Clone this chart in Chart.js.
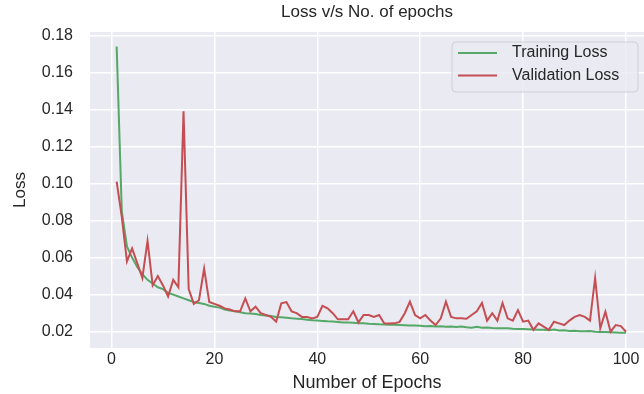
<!DOCTYPE html>
<html>
<head>
<meta charset="utf-8">
<script src="https://cdn.jsdelivr.net/npm/chart.js@4.4.1/dist/chart.umd.min.js"></script>
<style>
  body { margin: 0; background: #fff; }
  #wrap { width: 644px; height: 394px; }
</style>
</head>
<body>
<div id="wrap"><canvas id="lossChart" width="644" height="394"></canvas></div>
<script>
// epoch numbers on the x axis
var epochs = [];
for (var i = 1; i <= 100; i++) epochs.push(i);

var trainLoss = [
  0.174, 0.085, 0.066, 0.060, 0.055, 0.051, 0.048, 0.046, 0.044, 0.043,
  0.041, 0.040, 0.039, 0.038, 0.037, 0.036, 0.0355, 0.035, 0.034, 0.0335,
  0.033, 0.032, 0.0315, 0.031, 0.0305, 0.030, 0.0298, 0.0295, 0.029, 0.0288,
  0.0285, 0.028, 0.0278, 0.0275, 0.0272, 0.027, 0.0268, 0.0265, 0.0262, 0.026,
  0.0258, 0.0256, 0.0255, 0.0253, 0.025, 0.0249, 0.0248, 0.0246, 0.0245, 0.0243,
  0.0242, 0.024, 0.0239, 0.0238, 0.0237, 0.0236, 0.0235, 0.0234, 0.0233, 0.0232,
  0.023, 0.0231, 0.0228, 0.023, 0.0227, 0.0228, 0.0225, 0.0228, 0.0224, 0.0222,
  0.0226, 0.0221, 0.0222, 0.022, 0.0219, 0.0218, 0.0218, 0.0216, 0.0215, 0.0214,
  0.0213, 0.0212, 0.0211, 0.021, 0.0208, 0.0212, 0.0206, 0.0208, 0.0204, 0.0205,
  0.0203, 0.0202, 0.0204, 0.020, 0.0199, 0.0198, 0.0197, 0.0196, 0.0195, 0.0194
];
var valLoss = [
  0.101, 0.082, 0.058, 0.065, 0.057, 0.049, 0.069, 0.045, 0.050, 0.045,
  0.039, 0.048, 0.044, 0.139, 0.043, 0.035, 0.037, 0.054, 0.036, 0.035,
  0.034, 0.0326, 0.032, 0.031, 0.031, 0.038, 0.031, 0.0335, 0.030, 0.029,
  0.028, 0.0254, 0.0353, 0.036, 0.031, 0.030, 0.028, 0.028, 0.0272, 0.028,
  0.034, 0.0326, 0.030, 0.0267, 0.0267, 0.0267, 0.031, 0.025, 0.029, 0.029,
  0.028, 0.029, 0.0245, 0.0244, 0.0245, 0.0253, 0.030, 0.0362, 0.029, 0.0272,
  0.029, 0.026, 0.0236, 0.0272, 0.0362, 0.028, 0.0272, 0.0272, 0.027, 0.029,
  0.031, 0.0355, 0.026, 0.030, 0.026, 0.0355, 0.0272, 0.026, 0.0317, 0.0254,
  0.026, 0.021, 0.0245, 0.0227, 0.021, 0.0254, 0.0245, 0.0236, 0.026, 0.028,
  0.029, 0.028, 0.026, 0.049, 0.0218, 0.0308, 0.020, 0.0236, 0.023, 0.020
];
var xTicks = [0, 20, 40, 60, 80, 100];
var yTicks = [0.02, 0.04, 0.06, 0.08, 0.10, 0.12, 0.14, 0.16, 0.18];

function toPoints(values) {
  return values.map(function (v, i) { return { x: epochs[i], y: v }; });
}

Chart.defaults.font.family = "'Liberation Sans', Arial, sans-serif";
Chart.defaults.color = "#262626";

// grey axes background like seaborn darkgrid
var plotBackground = {
  id: "plotBackground",
  beforeDraw: function (chart) {
    var a = chart.chartArea, ctx = chart.ctx;
    ctx.save();
    ctx.fillStyle = "#EAEAF2";
    ctx.fillRect(a.left, a.top, a.right - a.left, a.bottom - a.top);
    ctx.restore();
  }
};

// legend box inside the plot, upper right
var insideLegend = {
  id: "insideLegend",
  afterDraw: function (chart) {
    var ctx = chart.ctx;
    var x = 452, y = 42, w = 186, h = 50;
    ctx.save();
    ctx.beginPath();
    ctx.roundRect(x, y, w, h, 4);
    ctx.fillStyle = "rgba(234,234,242,0.8)";
    ctx.fill();
    ctx.strokeStyle = "#cfcfd6";
    ctx.lineWidth = 1;
    ctx.stroke();
    ctx.font = "16px 'Liberation Sans', Arial, sans-serif";
    ctx.textBaseline = "middle";
    chart.data.datasets.forEach(function (ds, k) {
      var ly = 53 + k * 22.5;
      ctx.beginPath();
      ctx.moveTo(458, ly);
      ctx.lineTo(497, ly);
      ctx.strokeStyle = ds.borderColor;
      ctx.lineWidth = 2;
      ctx.stroke();
      ctx.fillStyle = "#262626";
      ctx.fillText(ds.label, 512, ly);
    });
    ctx.restore();
  }
};

var lossChart = new Chart(document.getElementById("lossChart"), {
  type: "line",
  data: {
    datasets: [
      {
        label: "Training Loss",
        data: toPoints(trainLoss),
        borderColor: "#55A868",
        borderWidth: 2,
        pointRadius: 0,
        order: 1
      },
      {
        label: "Validation Loss",
        data: toPoints(valLoss),
        borderColor: "#C44E52",
        borderWidth: 2,
        pointRadius: 0,
        order: 0
      }
    ]
  },
  options: {
    responsive: false,
    animation: false,
    layout: { padding: 0 },
    plugins: {
      legend: { display: false },
      tooltip: { enabled: false },
      title: {
        display: true,
        text: "Loss v/s No. of epochs",
        fullSize: false,
        font: { size: 17, weight: "normal", lineHeight: 1.2 },
        padding: { top: 2.3, bottom: 9.3 }
      }
    },
    scales: {
      x: {
        type: "linear",
        min: -4.18,
        max: 103.5,
        afterBuildTicks: function (axis) {
          axis.ticks = xTicks.map(function (v) { return { value: v }; });
        },
        afterFit: function (axis) { axis.height = 46; },
        grid: { color: "#ffffff", lineWidth: 1.5, drawTicks: false },
        border: { display: false },
        ticks: { font: { size: 16 }, padding: 2, maxRotation: 0 },
        title: {
          display: true,
          text: "Number of Epochs",
          font: { size: 18 },
          padding: { top: 0, bottom: 0 }
        }
      },
      y: {
        min: 0.0112,
        max: 0.1818,
        afterBuildTicks: function (axis) {
          axis.ticks = yTicks.map(function (v) { return { value: v }; });
        },
        afterFit: function (axis) { axis.width = 90; },
        grid: { color: "#ffffff", lineWidth: 1.5, drawTicks: false },
        border: { display: false },
        ticks: {
          font: { size: 16 },
          padding: 17,
          callback: function (v) { return v.toFixed(2); }
        },
        title: {
          display: true,
          text: "Loss",
          font: { size: 17 },
          padding: { top: 9.8, bottom: 0 }
        }
      }
    }
  },
  plugins: [plotBackground, insideLegend]
});
</script>
</body>
</html>
